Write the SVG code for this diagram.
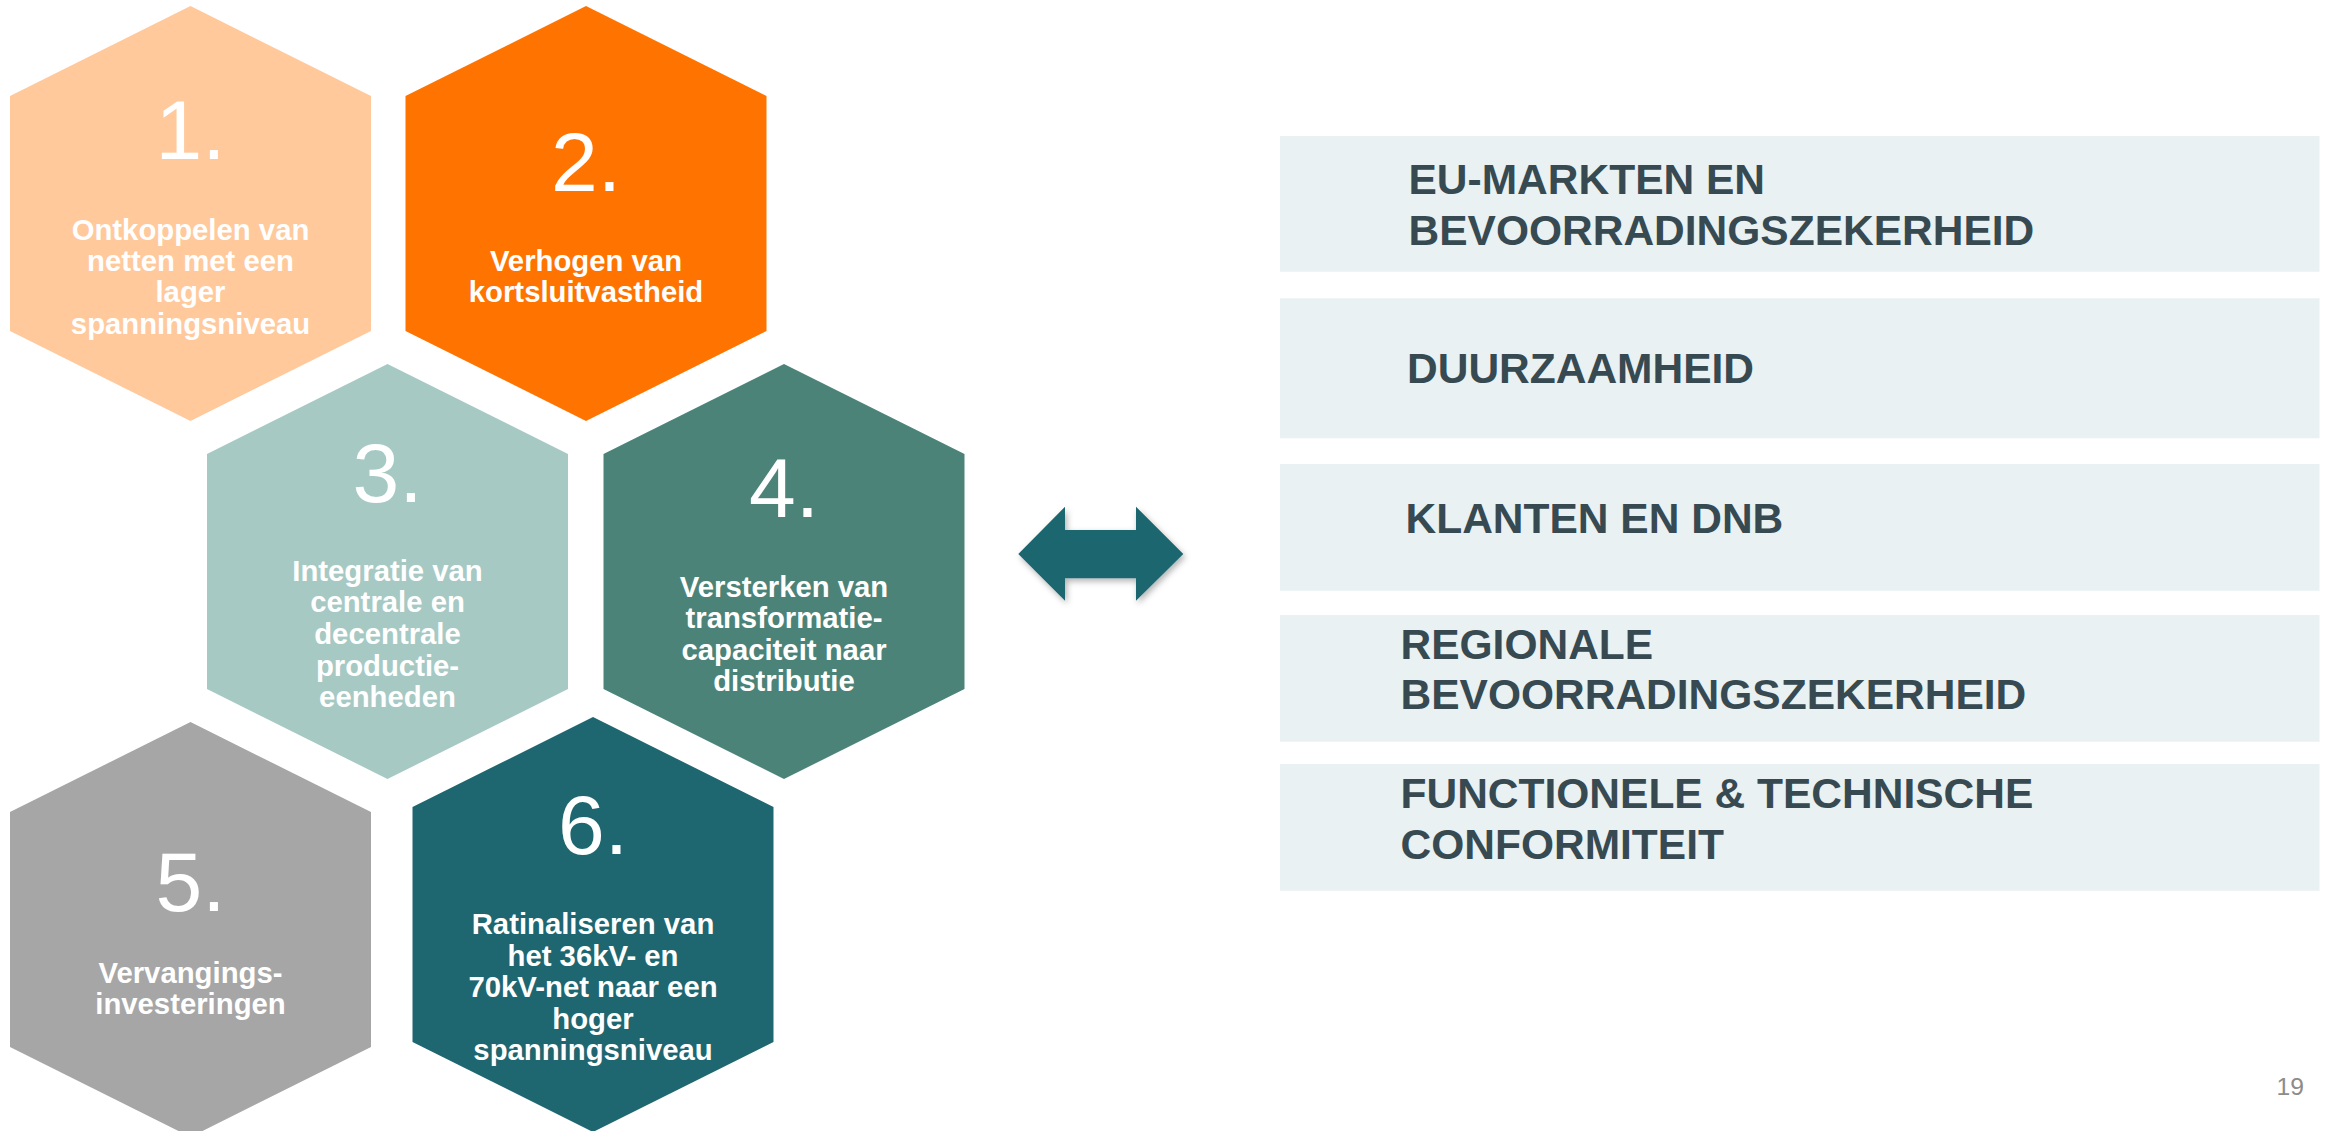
<svg xmlns="http://www.w3.org/2000/svg" width="2328" height="1131" viewBox="0 0 2328 1131">
  <defs>
    <style>
      .num { font-family: "Liberation Sans", Arial, sans-serif; font-size: 84px; fill: #ffffff; text-anchor: middle; }
      .lbl { font-family: "Liberation Sans", Arial, sans-serif; font-size: 29.3px; font-weight: bold; fill: #ffffff; text-anchor: middle; }
      .box { fill: #E9F1F3; }
      .cat { font-family: "Liberation Sans", Arial, sans-serif; font-size: 42.5px; font-weight: bold; fill: #374A51; }
      .page { font-family: "Liberation Sans", Arial, sans-serif; font-size: 24.7px; fill: #8C8C8C; text-anchor: end; }
    </style>
    <filter id="shadow" x="-20%" y="-30%" width="140%" height="160%">
      <feDropShadow dx="2" dy="3" stdDeviation="3" flood-color="#000000" flood-opacity="0.3"/>
    </filter>
  </defs>
  <rect width="2328" height="1131" fill="#ffffff"/>

  <!-- Hexagon 1 -->
  <g id="hex1">
    <polygon points="190.5,6 371,96 371,331 190.5,421 10,331 10,96" fill="#FFC99C"/>
    <text class="num" x="190.5" y="159">1.</text>
    <text class="lbl" x="190.5" y="239.5">Ontkoppelen van</text>
    <text class="lbl" x="190.5" y="271">netten met een</text>
    <text class="lbl" x="190.5" y="302.3">lager</text>
    <text class="lbl" x="190.5" y="333.5">spanningsniveau</text>
  </g>

  <!-- Hexagon 2 -->
  <g id="hex2">
    <polygon points="586,6 766.5,96 766.5,331 586,421 405.5,331 405.5,96" fill="#FF7400"/>
    <text class="num" x="586" y="191">2.</text>
    <text class="lbl" x="586" y="270.7">Verhogen van</text>
    <text class="lbl" x="586" y="301.7">kortsluitvastheid</text>
  </g>

  <!-- Hexagon 3 -->
  <g id="hex3">
    <polygon points="387.5,364 568,454 568,689 387.5,779 207,689 207,454" fill="#A6C9C4"/>
    <text class="num" x="387.5" y="501.7">3.</text>
    <text class="lbl" x="387.5" y="580.7">Integratie van</text>
    <text class="lbl" x="387.5" y="612.3">centrale en</text>
    <text class="lbl" x="387.5" y="643.9">decentrale</text>
    <text class="lbl" x="387.5" y="675.5">productie-</text>
    <text class="lbl" x="387.5" y="707.1">eenheden</text>
  </g>

  <!-- Hexagon 4 -->
  <g id="hex4">
    <polygon points="784,364 964.5,454 964.5,689 784,779 603.5,689 603.5,454" fill="#4C8379"/>
    <text class="num" x="784" y="516.7">4.</text>
    <text class="lbl" x="784" y="596.7">Versterken van</text>
    <text class="lbl" x="784" y="628.1">transformatie-</text>
    <text class="lbl" x="784" y="659.5">capaciteit naar</text>
    <text class="lbl" x="784" y="690.9">distributie</text>
  </g>

  <!-- Hexagon 5 -->
  <g id="hex5">
    <polygon points="190.5,722 371,812 371,1047 190.5,1137 10,1047 10,812" fill="#A6A6A6"/>
    <text class="num" x="190.5" y="910.7">5.</text>
    <text class="lbl" x="190.5" y="982.7">Vervangings-</text>
    <text class="lbl" x="190.5" y="1014">investeringen</text>
  </g>

  <!-- Hexagon 6 -->
  <g id="hex6">
    <polygon points="593,717 773.5,807 773.5,1042 593,1132 412.5,1042 412.5,807" fill="#1E6670"/>
    <text class="num" x="593" y="854">6.</text>
    <text class="lbl" x="593" y="934.3">Ratinaliseren van</text>
    <text class="lbl" x="593" y="965.7">het 36kV- en</text>
    <text class="lbl" x="593" y="997.1">70kV-net naar een</text>
    <text class="lbl" x="593" y="1028.5">hoger</text>
    <text class="lbl" x="593" y="1059.9">spanningsniveau</text>
  </g>

  <!-- Two-way arrow between the hexagons and the categories -->
  <g id="connectors">
    <polygon points="1018.3,554 1065,506.7 1065,530 1136,530 1136,506.7 1183.3,554 1136,600.7 1136,578.3 1065,578.3 1065,600.7" fill="#1E6670" filter="url(#shadow)"/>
  </g>

  <!-- Category boxes -->
  <g id="cat1">
    <rect class="box" x="1280" y="136" width="1039.5" height="135.7"/>
    <text class="cat" x="1408.5" y="194">EU-MARKTEN EN</text>
    <text class="cat" x="1408.5" y="245">BEVOORRADINGSZEKERHEID</text>
  </g>
  <g id="cat2">
    <rect class="box" x="1280" y="298.3" width="1039.5" height="140"/>
    <text class="cat" x="1407" y="383.3">DUURZAAMHEID</text>
  </g>
  <g id="cat3">
    <rect class="box" x="1280" y="464" width="1039.5" height="126.7"/>
    <text class="cat" x="1405.5" y="533.3">KLANTEN EN DNB</text>
  </g>
  <g id="cat4">
    <rect class="box" x="1280" y="615" width="1039.5" height="126.7"/>
    <text class="cat" x="1400.5" y="659.3">REGIONALE</text>
    <text class="cat" x="1400.5" y="709">BEVOORRADINGSZEKERHEID</text>
  </g>
  <g id="cat5">
    <rect class="box" x="1280" y="764" width="1039.5" height="126.7"/>
    <text class="cat" x="1400.5" y="807.7">FUNCTIONELE &amp; TECHNISCHE</text>
    <text class="cat" x="1400.5" y="859.3">CONFORMITEIT</text>
  </g>

  <text class="page" x="2304" y="1095">19</text>
</svg>
